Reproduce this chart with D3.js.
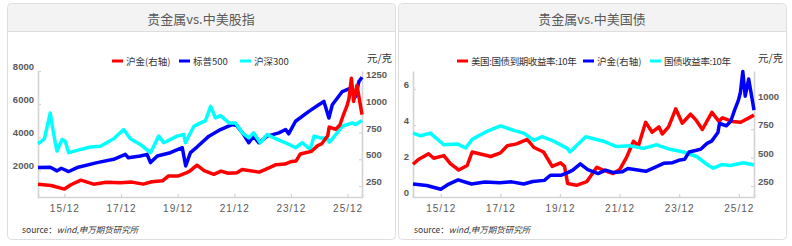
<!DOCTYPE html>
<html>
<head>
<meta charset="utf-8">
<script src="https://cdn.jsdelivr.net/npm/d3@7"></script>
<style>
  body { margin: 0; background: #fff; }
  svg { font-family: "Noto Sans CJK SC", "Noto Sans", sans-serif; display: block; }
</style>
</head>
<body>
<div id="chart"></div>
<script>
// 沪金 元/克 (shared by both panels, right axis)
var gold = [["2014-12-26",268],["2015-06-12",255],["2015-12-02",222],["2016-02-24",262],["2016-07-01",305],["2016-12-12",268],
  ["2017-05-24",285],["2017-11-24",280],["2018-04-18",287],["2018-09-12",268],["2019-01-02",290],["2019-05-24",300],
  ["2019-08-06",345],["2019-12-12",345],["2020-03-12",370],["2020-05-06",390],["2020-08-06",445],["2020-11-06",395],
  ["2021-03-12",360],["2021-06-12",390],["2021-09-12",370],["2022-01-04",375],["2022-03-12",405],["2022-10-18",380],
  ["2023-02-06",415],["2023-05-24",450],["2023-09-12",455],["2023-12-12",480],["2024-02-06",485],["2024-04-01",550],
  ["2024-07-01",565],["2024-08-24",575],["2024-11-06",625],["2025-01-02",645],["2025-03-20",720],["2025-04-08",800],
  ["2025-07-01",780],["2025-08-24",820],["2025-10-11",920],["2025-11-24",1000],["2025-12-20",1070],["2026-01-19",1257],
  ["2026-02-17",1040],["2026-04-01",1190],["2026-05-14",1010],["2026-06-05",917]];

// 标普500
var spx = [["2014-12-26",2160],["2015-06-02",2180],["2015-08-28",1960],["2015-10-22",2120],["2016-01-26",1920],["2016-05-14",2160],
  ["2017-01-26",2460],["2017-08-28",2660],["2018-01-26",2960],["2018-03-06",2750],["2018-08-06",2860],["2018-11-02",2960],
  ["2018-12-16",2460],["2019-03-14",2860],["2019-08-28",3060],["2020-01-30",3360],["2020-03-14",2260],["2020-05-14",3060],
  ["2020-08-06",3400],["2021-01-08",4060],["2021-06-06",4460],["2021-11-02",4760],["2022-01-02",4700],["2022-04-01",4160],
  ["2022-06-06",3660],["2022-08-06",4060],["2022-10-12",3660],["2023-01-30",4060],["2023-06-28",4260],["2023-09-24",4460],
  ["2023-11-02",4200],["2024-01-30",4960],["2024-07-20",5560],["2024-11-24",5960],["2025-01-30",6160],["2025-04-04",5160],
  ["2025-05-18",5960],["2025-09-24",6760],["2026-01-08",6960],["2026-03-14",6460],["2026-04-26",7360],["2026-06-05",7620]];

// 沪深300
var csi300 = [["2014-12-26",3600],["2015-03-18",3900],["2015-06-02",5460],["2015-07-01",4600],["2015-08-06",3660],["2015-08-28",3160],
  ["2015-11-02",3860],["2015-12-12",3750],["2016-01-26",3060],["2016-05-14",3200],["2016-11-02",3400],["2017-03-10",3450],
  ["2017-08-28",3900],["2018-01-04",4460],["2018-04-01",3900],["2018-08-06",3560],["2018-12-16",3060],["2019-04-01",4060],
  ["2019-06-06",3660],["2019-11-24",4060],["2020-02-18",4160],["2020-03-10",3660],["2020-06-28",4660],["2020-08-28",4800],
  ["2020-11-24",5000],["2021-01-30",5860],["2021-04-01",5160],["2021-06-06",5300],["2021-09-24",4860],["2021-12-16",4860],
  ["2022-03-14",4260],["2022-06-06",3960],["2022-08-06",4260],["2022-11-02",3660],["2023-01-30",4160],["2023-06-06",3860],
  ["2023-09-24",3660],["2024-01-30",3360],["2024-04-26",3660],["2024-08-06",3260],["2024-09-24",4060],["2024-12-16",3950],
  ["2025-03-06",3950],["2025-04-10",3700],["2025-05-18",3900],["2025-09-24",4660],["2026-01-30",4860],["2026-03-14",4760],
  ["2026-06-05",5000]];

// 美国:国债到期收益率:10年
var us10y = [["2014-12-26",1.82],["2015-03-08",2.1],["2015-07-05",2.4],["2015-09-06",2.15],["2016-01-08",2.3],["2016-03-28",1.85],
  ["2016-07-08",1.5],["2016-10-20",1.75],["2016-12-20",2.5],["2017-08-04",2.25],["2017-12-02",2.45],["2018-02-24",2.85],
  ["2018-06-18",2.95],["2018-10-26",3.2],["2019-01-16",2.75],["2019-05-14",2.5],["2019-08-28",1.7],["2019-12-08",1.9],
  ["2020-01-26",1.7],["2020-03-04",0.75],["2020-06-20",0.65],["2020-10-24",0.85],["2021-02-24",1.65],["2021-05-14",1.5],
  ["2021-09-12",1.3],["2021-12-06",1.55],["2022-02-24",2.2],["2022-05-20",3.1],["2022-07-20",2.85],["2022-10-16",4.15],
  ["2023-01-04",3.6],["2023-03-28",3.9],["2023-05-08",3.5],["2023-07-24",3.9],["2023-10-20",4.9],["2024-01-08",4.1],
  ["2024-04-18",4.6],["2024-06-20",4.3],["2024-09-10",3.75],["2025-01-05",4.7],["2025-04-01",4.2],["2025-05-14",4.4],
  ["2025-09-12",4.2],["2025-12-24",4.15],["2026-06-05",4.55]];

// 国债收益率:10年
var cn10y = [["2014-12-26",3.55],["2015-03-28",3.4],["2015-07-26",3.55],["2016-01-08",2.9],["2016-06-20",2.95],["2016-10-02",2.72],
  ["2016-12-20",3.2],["2017-06-20",3.65],["2017-12-02",3.95],["2018-05-14",3.7],["2018-09-12",3.55],["2019-01-16",3.15],
  ["2019-04-26",3.35],["2019-09-16",3.1],["2020-03-01",2.7],["2020-04-01",2.5],["2020-10-12",3.35],["2021-05-14",3.1],
  ["2021-10-26",2.8],["2022-04-04",2.85],["2022-09-16",2.7],["2023-02-28",2.9],["2023-08-12",2.65],["2024-01-22",2.5],
  ["2024-07-01",2.25],["2024-11-24",1.75],["2025-01-24",1.6],["2025-05-04",1.8],["2025-08-14",1.75],["2026-01-26",1.9],
  ["2026-06-05",1.78]];

var xTicks = ["2015-12-01","2017-12-01","2019-12-01","2021-12-01","2023-12-01","2025-12-01"];
var xTickLabels = ["15/12","17/12","19/12","21/12","23/12","25/12"];

var width = 792, height = 246;
var parse = d3.timeParse("%Y-%m-%d");
var fmtX = function (d, i) { return xTickLabels[i]; };

var svg = d3.select("#chart").append("svg")
  .attr("width", width).attr("height", height);

function drawCard(x0, w, title) {
  var g = svg.append("g");
  g.append("rect").attr("x", x0 + 0.5).attr("y", 3.5).attr("width", w).attr("height", 236)
    .attr("rx", 4).attr("fill", "#fff").attr("stroke", "#dedede");
  g.append("path")
    .attr("d", "M" + (x0 + 1) + ",31 V8 q0,-4 4,-4 H" + (x0 + w - 4) + " q4,0 4,4 V31 Z")
    .attr("fill", "#f3f3f3");
  g.append("line").attr("x1", x0 + 1).attr("x2", x0 + w).attr("y1", 31.5).attr("y2", 31.5)
    .attr("stroke", "#dedede");
  g.append("text").attr("x", x0 + w / 2).attr("y", 23.5).attr("text-anchor", "middle")
    .attr("font-size", 13).attr("fill", "#595959").text(title);
}

function styleAxis(g) {
  g.select(".domain").attr("stroke", "#d4d4d4").attr("stroke-width", 1.6);
  g.selectAll(".tick line").attr("stroke", "#d4d4d4").attr("stroke-width", 1.2);
  g.selectAll(".tick text").attr("fill", "#595959").attr("font-size", 9.5).attr("font-weight", "bold");
}

function drawPanel(p) {
  var x = d3.scaleTime().domain([parse("2014-12-26"), parse("2026-06-05")]).range([p.left, p.right]);
  var yL = d3.scaleLinear().domain(p.leftDomain).range([p.bottom, p.top]);
  var yR = d3.scaleLinear().domain(p.rightDomain).range([p.bottom, p.top]);

  var gx = svg.append("g").attr("transform", "translate(0," + p.bottom + ")")
    .call(d3.axisBottom(x).tickValues(xTicks.map(parse)).tickFormat(fmtX).tickSize(-3).tickPadding(8));
  styleAxis(gx);
  gx.selectAll(".tick text").attr("font-weight", "normal").attr("letter-spacing", "1px").attr("font-size", 10);

  var gl = svg.append("g").attr("transform", "translate(" + p.left + ",0)")
    .call(d3.axisLeft(yL).tickValues(p.leftTicks).tickFormat(d3.format("d")).tickSize(-3).tickPadding(4).tickSizeOuter(0));
  styleAxis(gl);
  gl.selectAll(".tick text").attr("dy", "-0.15em");

  var gr = svg.append("g").attr("transform", "translate(" + p.right + ",0)")
    .call(d3.axisRight(yR).tickValues(p.rightTicks).tickFormat(d3.format("d")).tickSize(-3).tickPadding(4).tickSizeOuter(0));
  styleAxis(gr);
  gr.selectAll(".tick text").attr("dy", "-0.15em");

  p.series.forEach(function (s) {
    var y = s.axis === "right" ? yR : yL;
    var line = d3.line()
      .x(function (d) { return x(parse(d[0])); })
      .y(function (d) { return y(d[1]); });
    svg.append("path").datum(s.data)
      .attr("fill", "none").attr("stroke", s.color).attr("stroke-width", 3.5)
      .attr("stroke-linejoin", "round").attr("d", line);
  });

  // legend
  var lg = svg.append("g").attr("font-size", 9.5).attr("fill", "#333");
  p.legend.forEach(function (l) {
    lg.append("line").attr("x1", l.x).attr("x2", l.x + 11).attr("y1", p.legendY).attr("y2", p.legendY)
      .attr("stroke", l.color).attr("stroke-width", 3);
    lg.append("text").attr("x", l.x + 14).attr("y", p.legendY + 3.5)
      .attr("letter-spacing", l.tight ? "-0.4px" : "0px").text(l.name);
  });

  svg.append("text").attr("x", p.unitX).attr("y", 62).attr("font-size", 10.5).attr("fill", "#333").text("元/克");
  var src = svg.append("text").attr("x", p.sourceX).attr("y", 233).attr("font-size", 8.5).attr("fill", "#333");
  src.append("tspan").text("source：");
  src.append("tspan").attr("font-style", "italic").text("wind,申万期货研究所");
}

drawCard(7, 388, "贵金属vs.中美股指");
drawCard(398, 388, "贵金属vs.中美国债");

drawPanel({
  left: 38, right: 362, top: 71, bottom: 197,
  leftDomain: [380, 8000], leftTicks: [2000, 4000, 6000, 8000],
  rightDomain: [148, 1324], rightTicks: [250, 500, 750, 1000, 1250],
  series: [
    { data: spx, color: "#0000ff", axis: "left" },
    { data: csi300, color: "#00ffff", axis: "left" },
    { data: gold, color: "#ff0000", axis: "right" }
  ],
  legendY: 61,
  legend: [
    { name: "沪金(右轴)", color: "#ff0000", x: 112 },
    { name: "标普500", color: "#0000ff", x: 179 },
    { name: "沪深300", color: "#00ffff", x: 240 }
  ],
  unitX: 367, sourceX: 22
});

drawPanel({
  left: 413, right: 754, top: 71, bottom: 197,
  leftDomain: [0, 7], leftTicks: [0, 2, 4, 6],
  rightDomain: [154, 1261], rightTicks: [250, 500, 750, 1000],
  series: [
    { data: us10y, color: "#ff0000", axis: "left" },
    { data: cn10y, color: "#00ffff", axis: "left" },
    { data: gold, color: "#0000ff", axis: "right" }
  ],
  legendY: 61,
  legend: [
    { name: "美国:国债到期收益率:10年", color: "#ff0000", x: 457, tight: true },
    { name: "沪金(右轴)", color: "#0000ff", x: 583 },
    { name: "国债收益率:10年", color: "#00ffff", x: 650, tight: true }
  ],
  unitX: 758, sourceX: 414
});
</script>
</body>
</html>
